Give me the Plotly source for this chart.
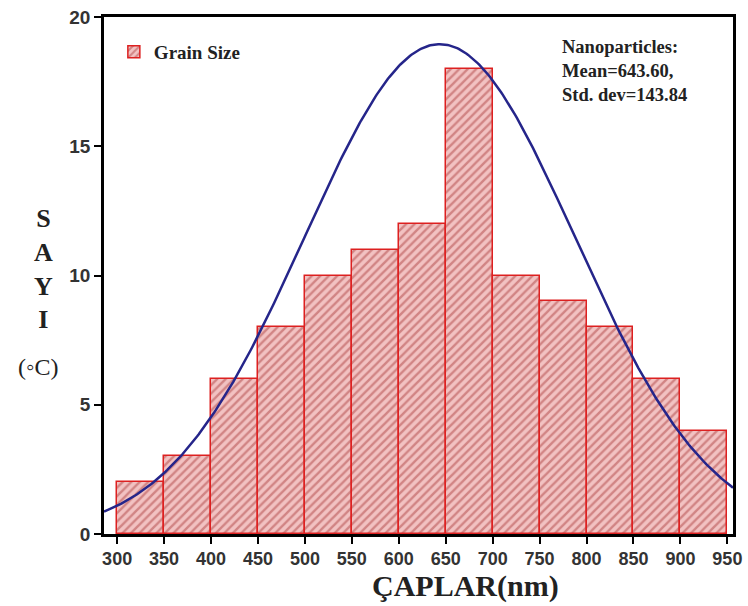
import numpy as np
import plotly.graph_objects as go

# ---- data ----
bin_edges = [300, 350, 400, 450, 500, 550, 600, 650, 700, 750, 800, 850, 900, 950]
counts = [2, 3, 6, 8, 10, 11, 12, 18, 10, 9, 8, 6, 4]
fit_mean = 643.60
fit_std = 143.84
fit_peak = 18.95
x_ticks = [300, 350, 400, 450, 500, 550, 600, 650, 700, 750, 800, 850, 900, 950]
y_ticks = [0, 5, 10, 15, 20]

centers = [(a + b) / 2 for a, b in zip(bin_edges[:-1], bin_edges[1:])]
widths = [b - a for a, b in zip(bin_edges[:-1], bin_edges[1:])]

x_rng = [286, 956]
xf = np.linspace(x_rng[0], x_rng[1], 400)
yf = fit_peak * np.exp(-0.5 * ((xf - fit_mean) / fit_std) ** 2)

serif = "Liberation Serif"
sans = "Liberation Sans"

W, H = 748, 606
L, R, T, B = 104, 6, 17, 72
pw, ph = W - L - R, H - T - B


def px(x_page):
    return (x_page - L) / pw


def py(y_page):
    return (H - B - y_page) / ph


fig = go.Figure()
fig.add_trace(go.Bar(
    x=centers, y=counts, width=widths, name="<b>Grain Size</b>",
    marker=dict(
        color="#eeb0b0",
        line=dict(color="#dd2020", width=1.5),
        pattern=dict(shape="/", fgcolor="#b04545", bgcolor="#f2c2c2", size=6, solidity=0.4),
    ),
    showlegend=True,
))
fig.add_trace(go.Scatter(
    x=xf, y=yf, mode="lines", line=dict(color="#25258a", width=2.5),
    showlegend=False, hoverinfo="skip",
))

fig.update_layout(
    width=W, height=H,
    margin=dict(l=L, r=R, t=T, b=B),
    paper_bgcolor="white", plot_bgcolor="white",
    bargap=0,
    legend=dict(x=px(114), y=py(33), xanchor="left", yanchor="top",
                bgcolor="rgba(0,0,0,0)", font=dict(family=serif, size=19, color="#222"),
                itemwidth=30),
)
fig.update_xaxes(
    range=x_rng, tickvals=x_ticks, ticktext=[str(v) for v in x_ticks],
    showgrid=False, zeroline=False,
    showline=True, mirror=True, linecolor="black", linewidth=2.5,
    ticks="outside", ticklen=7, tickwidth=2, tickcolor="black",
    ticklabeloverflow="allow",
    tickfont=dict(family=sans, size=18, color="#333", weight="bold"),
)
fig.update_yaxes(
    range=[0, 20], tickvals=y_ticks, ticktext=[str(v) for v in y_ticks],
    showgrid=False, zeroline=False,
    showline=True, mirror=True, linecolor="black", linewidth=2.5,
    ticks="outside", ticklen=7, tickwidth=2, tickcolor="black",
    tickfont=dict(family=sans, size=19, color="#333", weight="bold"),
)

# x-axis title
fig.add_annotation(
    xref="paper", yref="paper", x=px(471), y=py(586),
    xanchor="center", yanchor="middle", showarrow=False,
    text="<b>ÇAPLAR(nm)</b>", font=dict(family=serif, size=30, color="#222"),
)
# y-axis title (stacked letters)
fig.add_annotation(
    xref="paper", yref="paper", x=px(43), y=py(269),
    xanchor="center", yanchor="middle", showarrow=False, align="center",
    text="<b>S</b><br><b>A</b><br><b>Y</b><br><b>I</b>",
    font=dict(family=serif, size=26, color="#222"),
)
fig.add_annotation(
    xref="paper", yref="paper", x=px(38), y=py(367),
    xanchor="center", yanchor="middle", showarrow=False,
    text="(◦C)", font=dict(family=serif, size=24, color="#222"),
)
# stats box
fig.add_annotation(
    xref="paper", yref="paper", x=px(567), y=py(35),
    xanchor="left", yanchor="top", showarrow=False, align="left",
    text="<b>Nanoparticles:</b><br><b>Mean=643.60,</b><br><b>Std. dev=143.84</b>",
    font=dict(family=serif, size=18.5, color="#222"),
)

fig.write_html(
    "out.html",
    config={"displayModeBar": False},
    post_script="document.body.style.margin='0';document.body.style.overflow='hidden';",
)
